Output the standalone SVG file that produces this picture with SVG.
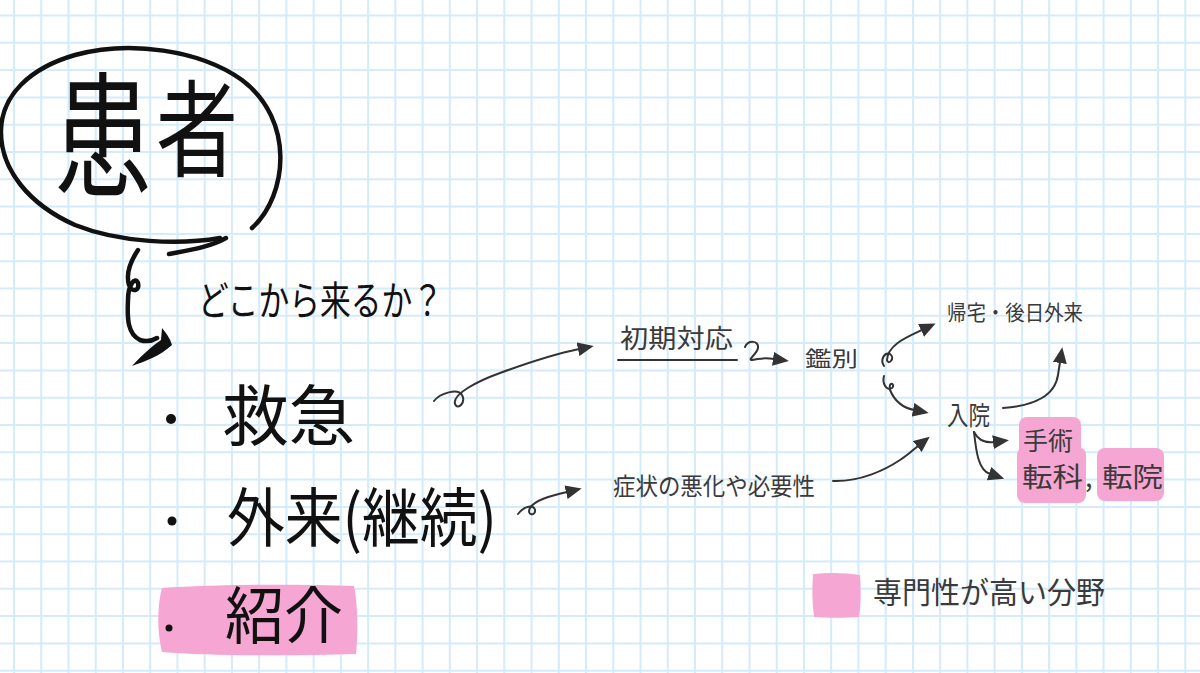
<svg xmlns="http://www.w3.org/2000/svg" width="1200" height="673" viewBox="0 0 1200 673">
<style>
.grid{stroke:#d3ebfb;stroke-width:2;fill:none}
.big{font-family:"Noto Sans CJK JP","Noto Sans",sans-serif;fill:#111;font-weight:400}
.lbl{font-family:"Noto Sans CJK JP","Noto Sans",sans-serif;fill:#3a3a3a;font-weight:400}
.hl{fill:#f6a6d2}
.con{fill:none;stroke:#333;stroke-width:2;stroke-linecap:round;stroke-linejoin:round}
.ink{fill:none;stroke:#111;stroke-width:4.5;stroke-linecap:round;stroke-linejoin:round}
</style>
<defs>
<marker id="ah" markerUnits="userSpaceOnUse" markerWidth="16" markerHeight="14" viewBox="0 0 16 14" refX="1" refY="7" orient="auto">
<path d="M0,0 L16,7 L0,14 Z" fill="#333"/>
</marker>
</defs>
<rect width="1200" height="673" fill="#ffffff"/>
<path class="grid" d="M14 0V673M41.24 0V673M68.48 0V673M95.72 0V673M122.96 0V673M150.2 0V673M177.44 0V673M204.68 0V673M231.92 0V673M259.16 0V673M286.4 0V673M313.64 0V673M340.88 0V673M368.12 0V673M395.36 0V673M422.6 0V673M449.84 0V673M477.08 0V673M504.32 0V673M531.56 0V673M558.8 0V673M586.04 0V673M613.28 0V673M640.52 0V673M667.76 0V673M695 0V673M722.24 0V673M749.48 0V673M776.72 0V673M803.96 0V673M831.2 0V673M858.44 0V673M885.68 0V673M912.92 0V673M940.16 0V673M967.4 0V673M994.64 0V673M1021.88 0V673M1049.12 0V673M1076.36 0V673M1103.6 0V673M1130.84 0V673M1158.08 0V673M1185.32 0V673M0 15.5H1200M0 42.8H1200M0 70.1H1200M0 97.4H1200M0 124.7H1200M0 152H1200M0 179.3H1200M0 206.6H1200M0 233.9H1200M0 261.2H1200M0 288.5H1200M0 315.8H1200M0 343.1H1200M0 370.4H1200M0 397.7H1200M0 425H1200M0 452.3H1200M0 479.6H1200M0 506.9H1200M0 534.2H1200M0 561.5H1200M0 588.8H1200M0 616.1H1200M0 643.4H1200M0 670.7H1200"/>

<g id="highlights">
<path class="hl" d="M162,588 C220,584 300,584 354,586 C358,606 358,634 356,654 C290,656 210,656 162,652 C157,632 157,606 162,588 Z"/>
<rect class="hl" x="1019" y="417" width="62" height="42" rx="8"/>
<rect class="hl" x="1017" y="447" width="69" height="56" rx="8"/>
<rect class="hl" x="1097" y="448" width="67" height="53" rx="8"/>
</g>

<g id="patient">
<path class="ink" d="M252,228 C288,195 295,120 242,80 C200,50 130,40 75,55 C30,68 2,95 1,130 C0,170 30,205 75,225 C120,243 180,245 220,238"/>
<path class="ink" d="M169,254 C190,250 210,247 226,238"/>
<text class="big" font-weight="300" font-size="135" transform="translate(103,186) scale(0.72,1)" text-anchor="middle">患</text>
<text class="big" font-weight="300" font-size="105" transform="translate(197,168) scale(0.78,1)" text-anchor="middle">者</text>
</g>

<g id="question">
<path class="ink" d="M138,250 C130,262 126,275 129,285 C132,293 140,291 138,283 C135,276 128,285 128,300 C127,320 128,334 140,340 C146,342 152,341 157,338"/>
<path d="M132,366 C145,352 155,344 161,340 L162,328 C166,333 170,338 172,345 C160,356 146,361 132,366 Z" fill="#111"/>
<text class="big" font-size="40" x="198" y="315" textLength="245" lengthAdjust="spacingAndGlyphs">どこから来るか？</text>
</g>

<g id="kyukyu">
<circle cx="171" cy="419" r="5" fill="#111"/>
<text class="big" font-size="66" x="222" y="440" textLength="133" lengthAdjust="spacingAndGlyphs">救急</text>
</g>

<g id="gairai">
<circle cx="172" cy="521" r="4.5" fill="#111"/>
<text class="big" font-size="64" x="227" y="541" textLength="270" lengthAdjust="spacingAndGlyphs">外来(継続)</text>
</g>

<g id="shokai">
<circle cx="169" cy="628" r="3.5" fill="#111"/>
<text class="big" font-size="62" x="225" y="639" textLength="118" lengthAdjust="spacingAndGlyphs">紹介</text>
</g>

<g id="shoki">
<text class="lbl" font-size="26" x="620" y="348" textLength="113" lengthAdjust="spacingAndGlyphs">初期対応</text>
<path class="con" d="M618,360 L737,360"/>
</g>

<g id="kanbetsu">
<text class="lbl" font-size="21" x="805" y="366" textLength="53" lengthAdjust="spacingAndGlyphs">鑑別</text>
</g>

<g id="kitaku">
<text class="lbl" font-size="21" x="947" y="320" textLength="136" lengthAdjust="spacingAndGlyphs">帰宅・後日外来</text>
</g>

<g id="nyuin">
<text class="lbl" font-size="26" x="947" y="425" textLength="43" lengthAdjust="spacingAndGlyphs">入院</text>
</g>

<g id="shujutsu">
<text class="lbl" font-size="25" x="1023" y="450" textLength="50" lengthAdjust="spacingAndGlyphs">手術</text>
</g>

<g id="tenka">
<text class="lbl" font-size="27" y="487"><tspan x="1022" textLength="61" lengthAdjust="spacingAndGlyphs">転科</tspan><tspan x="1085">,</tspan><tspan x="1102" textLength="61" lengthAdjust="spacingAndGlyphs">転院</tspan></text>
</g>

<g id="shojo">
<text class="lbl" font-size="24" x="613" y="495" textLength="202" lengthAdjust="spacingAndGlyphs">症状の悪化や必要性</text>
</g>

<g id="legend">
<path class="hl" d="M813,574 C830,572 848,573 860,575 C861,590 861,605 859,617 C845,618 828,618 814,617 C812,603 812,588 813,574 Z"/>
<text class="lbl" font-size="30" x="873" y="603" textLength="232" lengthAdjust="spacingAndGlyphs">専門性が高い分野</text>
</g>

<g id="connectors">
<path class="con" marker-end="url(#ah)" d="M434,401 C440,393 458,388 462,395 C466,402 458,411 455,404 C452,394 478,381 500,373 C530,362 555,354 579,349"/>
<path class="con" marker-end="url(#ah)" d="M745,347 C748,340 759,340 758,348 C757,354 747,360 752,360 C760,358 767,358 774,359"/>
<path class="con" marker-end="url(#ah)" d="M884,366 C880,360 884,352 890,354 C896,358 888,366 887,360 C888,345 905,338 922,330"/>
<path class="con" marker-end="url(#ah)" d="M884,376 C882,382 886,392 892,388 C896,384 888,380 890,390 C895,402 904,408 914,410"/>
<path class="con" marker-end="url(#ah)" d="M1003,408 C1035,406 1055,395 1058,375 L1060,362"/>
<path class="con" marker-end="url(#ah)" d="M974,432 C978,440 985,443 994,442"/>
<path class="con" marker-end="url(#ah)" d="M974,432 C976,450 978,470 990,474"/>
<path class="con" marker-end="url(#ah)" d="M518,514 C524,506 534,504 535,510 C536,516 526,516 530,508 C535,500 550,496 567,492"/>
<path class="con" marker-end="url(#ah)" d="M833,481 C860,482 885,470 900,460 C908,455 913,450 918,446"/>
</g>
</svg>
